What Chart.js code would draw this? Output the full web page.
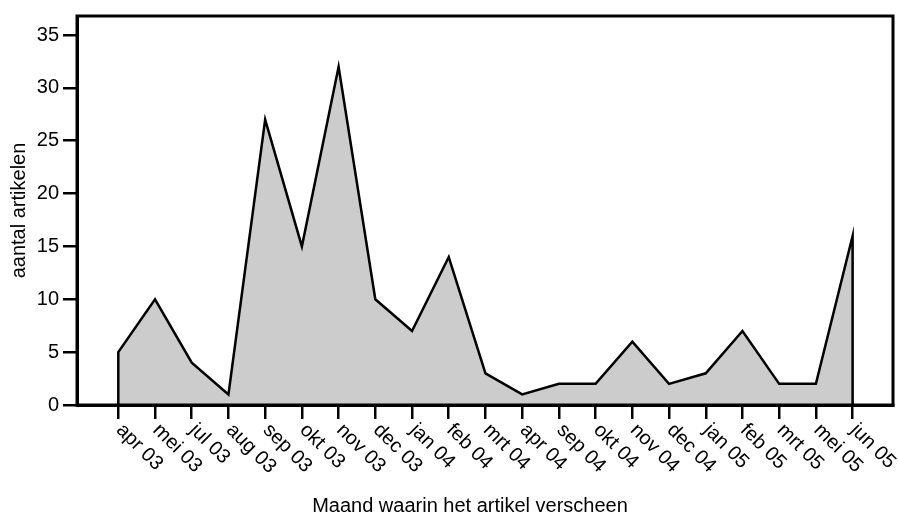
<!DOCTYPE html>
<html>
<head>
<meta charset="utf-8">
<script src="https://cdn.jsdelivr.net/npm/chart.js@4"></script>
<style>
	body { margin: 0; background: #fff; }
	canvas { display: block; }
</style>
</head>
<body>
<canvas id="artikelenChart" width="898" height="516"></canvas>
<script>
// Data
const maanden = ['apr 03', 'mei 03', 'jul 03', 'aug 03', 'sep 03', 'okt 03', 'nov 03', 'dec 03', 'jan 04', 'feb 04', 'mrt 04', 'apr 04', 'sep 04', 'okt 04', 'nov 04', 'dec 04', 'jan 05', 'feb 05', 'mrt 05', 'mei 05', 'jun 05']
const aantallen = [5, 10, 4, 1, 27, 15, 32, 10, 7, 14, 3, 1, 2, 2, 6, 2, 3, 7, 2, 2, 16]
const yTicks = [0, 5, 10, 15, 20, 25, 30, 35]

const FONT = 'Liberation Sans, Arial, Helvetica, sans-serif'

// punten langs de lijn, plus de basis op 0 aan beide uiteinden
const punten = [{ x: 0, y: 0 }]
	.concat(aantallen.map((v, i) => ({ x: i, y: v })))
	.concat([{ x: aantallen.length - 1, y: 0 }])

// Kader, gedraaide labels en astitels
const tekenPlugin = {
	id: 'tekenPlugin',
	afterDraw(chart) {
		const ctx = chart.ctx
		const area = chart.chartArea
		const xs = chart.scales.x
		ctx.save()
		ctx.strokeStyle = '#000'
		ctx.lineWidth = 3
		ctx.strokeRect(area.left, area.top, area.right - area.left, area.bottom - area.top)

		ctx.fillStyle = '#000'
		ctx.font = '20px ' + FONT
		ctx.textAlign = 'left'
		ctx.textBaseline = 'middle'
		maanden.forEach((m, i) => {
			const x = xs.getPixelForValue(i)
			ctx.save()
			ctx.translate(x + 1, area.bottom + 22)
			ctx.rotate(Math.PI / 4)
			ctx.fillText(m, 0, 0)
			ctx.restore()
		})

		ctx.font = '20px ' + FONT
		ctx.textAlign = 'center'
		ctx.textBaseline = 'alphabetic'
		ctx.fillText('Maand waarin het artikel verscheen', 470, 512)

		ctx.save()
		ctx.translate(25, (area.top + area.bottom) / 2)
		ctx.rotate(-Math.PI / 2)
		ctx.fillText('aantal artikelen', 0, 0)
		ctx.restore()
		ctx.restore()
	},
}

const artikelenChart = new Chart(
	document.getElementById('artikelenChart').getContext('2d'),
	{
		type: 'line',
		data: {
			datasets: [
				{
					label: 'aantal artikelen',
					data: punten,
					borderColor: '#000',
					borderWidth: 2.5,
					backgroundColor: '#cccccc',
					fill: 'origin',
					pointRadius: 0,
					tension: 0,
				},
			],
		},
		options: {
			responsive: false,
			animation: false,
			layout: { padding: { top: 16, right: 5, left: 0, bottom: 0 } },
			scales: {
				x: {
					type: 'linear',
					min: -1.125,
					max: 21.1,
					afterBuildTicks: s => {
						s.ticks = maanden.map((_, i) => ({ value: i }))
					},
					afterFit: s => {
						s.height = 111
					},
					ticks: { display: false },
					grid: { drawOnChartArea: false, tickLength: 14, color: '#000', lineWidth: 2.5 },
					border: { color: '#000', width: 3 },
				},
				y: {
					min: 0,
					max: 36.8,
					afterBuildTicks: s => {
						s.ticks = yTicks.map(v => ({ value: v }))
					},
					afterFit: s => {
						s.width = 77
					},
					ticks: { color: '#000', font: { size: 20, family: FONT }, padding: 4 },
					grid: { drawOnChartArea: false, tickLength: 14, color: '#000', lineWidth: 2.5 },
					border: { color: '#000', width: 3 },
				},
			},
			plugins: {
				legend: { display: false },
				tooltip: { enabled: false },
			},
		},
		plugins: [tekenPlugin],
	}
)
</script>
</body>
</html>
